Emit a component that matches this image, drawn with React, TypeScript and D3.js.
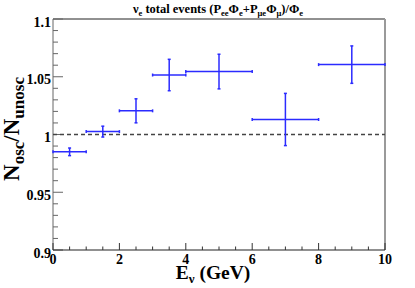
import { useEffect, useRef } from "react";
import * as d3 from "d3";

// bins (GeV) and ratio values
const binLow = [0, 1, 2, 3, 4, 6, 8];
const binHigh = [1, 2, 3, 4, 6, 8, 10];
const ratio = [0.985, 1.0025, 1.0205, 1.0515, 1.0545, 1.013, 1.0605];
const ratioErr = [0.0033, 0.0047, 0.0104, 0.0136, 0.015, 0.0226, 0.0162];

const xTicks = [0, 2, 4, 6, 8, 10];
const yTicks = [0.9, 0.95, 1, 1.05, 1.1];
const yTickLabels = ["0.9", "0.95", "1", "1.05", "1.1"];

// title pieces: [text, subscript?]
const titleParts: [string, boolean][] = [
  ["ν", false],
  ["e", true],
  [" total events (P", false],
  ["ee", true],
  ["Φ", false],
  ["e", true],
  ["+P", false],
  ["μe", true],
  ["Φ", false],
  ["μ", true],
  [")/Φ", false],
  ["e", true],
];

function App() {
  const svgRef = useRef<SVGSVGElement>(null);

  useEffect(() => {
    const width = 415;
    const height = 288;
    const margin = { top: 19, right: 30, bottom: 38, left: 53 };
    const font = "'Liberation Serif', 'Times New Roman', serif";
    const blue = "#2b2bff";

    const svg = d3.select(svgRef.current).attr("width", width).attr("height", height);
    svg.selectAll("*").remove();

    const x = d3
      .scaleLinear()
      .domain([0, 10])
      .range([margin.left, width - margin.right]);
    const y = d3
      .scaleLinear()
      .domain([0.9, 1.1])
      .range([height - margin.bottom, margin.top]);

    const [x0, x1] = x.range();
    const [yb, yt] = y.range();

    // frame: top black, right grey
    svg
      .append("line")
      .attr("x1", x0)
      .attr("x2", x1)
      .attr("y1", yt)
      .attr("y2", yt)
      .attr("stroke", "#222")
      .attr("stroke-width", 1);
    svg
      .append("line")
      .attr("x1", x1)
      .attr("x2", x1)
      .attr("y1", yt)
      .attr("y2", yb)
      .attr("stroke", "#9a9a9a")
      .attr("stroke-width", 2);

    // y axis (ticks inside)
    svg
      .append("line")
      .attr("x1", x0)
      .attr("x2", x0)
      .attr("y1", yt)
      .attr("y2", yb)
      .attr("stroke", "#666")
      .attr("stroke-width", 1);
    d3.range(0, 21).forEach((i) => {
      const v = 0.9 + i * 0.01;
      const major = i % 5 === 0;
      svg
        .append("line")
        .attr("x1", x0)
        .attr("x2", x0 + (major ? 10 : 5))
        .attr("y1", y(v))
        .attr("y2", y(v))
        .attr("stroke", "#666")
        .attr("stroke-width", 1);
    });
    yTicks.forEach((v, i) => {
      svg
        .append("text")
        .attr("x", x0 - 2)
        .attr("y", y(v) + 7.5)
        .attr("text-anchor", "end")
        .style("font-family", font)
        .style("font-weight", "bold")
        .style("font-size", "14px")
        .text(yTickLabels[i]);
    });

    // x axis (ticks inside)
    svg
      .append("line")
      .attr("x1", x0)
      .attr("x2", x1)
      .attr("y1", yb)
      .attr("y2", yb)
      .attr("stroke", "#222")
      .attr("stroke-width", 1.2);
    d3.range(0, 21).forEach((i) => {
      const v = i * 0.5;
      const major = i % 4 === 0;
      svg
        .append("line")
        .attr("x1", x(v))
        .attr("x2", x(v))
        .attr("y1", yb)
        .attr("y2", yb - (major ? 7 : 3.5))
        .attr("stroke", "#333")
        .attr("stroke-width", 1);
    });
    xTicks.forEach((v) => {
      svg
        .append("text")
        .attr("x", x(v))
        .attr("y", yb + 14)
        .attr("text-anchor", "middle")
        .style("font-family", font)
        .style("font-weight", "bold")
        .style("font-size", "14px")
        .text(d3.format("d")(v));
    });

    // dashed reference at 1
    svg
      .append("line")
      .attr("x1", x0)
      .attr("x2", x1)
      .attr("y1", y(1))
      .attr("y2", y(1))
      .attr("stroke", "#444")
      .attr("stroke-width", 1.4)
      .attr("stroke-dasharray", "4,3");

    // error crosses
    const cap = 1.5;
    binLow.forEach((lo, i) => {
      const hi = binHigh[i];
      const cx = x((lo + hi) / 2);
      const cy = y(ratio[i]);
      const g = svg.append("g").attr("stroke", blue).attr("stroke-width", 1.5);
      g.append("line").attr("x1", x(lo)).attr("x2", x(hi)).attr("y1", cy).attr("y2", cy);
      g.append("line")
        .attr("x1", cx)
        .attr("x2", cx)
        .attr("y1", y(ratio[i] - ratioErr[i]))
        .attr("y2", y(ratio[i] + ratioErr[i]));
      [lo, hi].forEach((e) =>
        g.append("line").attr("x1", x(e)).attr("x2", x(e)).attr("y1", cy - cap).attr("y2", cy + cap)
      );
      [ratio[i] - ratioErr[i], ratio[i] + ratioErr[i]].forEach((e) =>
        g.append("line").attr("x1", cx - cap).attr("x2", cx + cap).attr("y1", y(e)).attr("y2", y(e))
      );
    });

    // title
    const title = svg
      .append("text")
      .attr("x", 218)
      .attr("y", 13)
      .attr("text-anchor", "middle")
      .style("font-family", font)
      .style("font-weight", "bold")
      .style("font-size", "12.5px");
    let down = false;
    titleParts.forEach(([t, sub]) => {
      const ts = title.append("tspan").text(t);
      if (sub && !down) {
        ts.attr("dy", 3).style("font-size", "8.5px");
        down = true;
      } else if (sub) {
        ts.style("font-size", "8.5px");
      } else if (down) {
        ts.attr("dy", -3);
        down = false;
      }
    });

    // x label
    const xl = svg
      .append("text")
      .attr("x", 213)
      .attr("y", 279)
      .attr("text-anchor", "middle")
      .style("font-family", font)
      .style("font-weight", "bold")
      .style("font-size", "19.5px");
    xl.append("tspan").text("E");
    xl.append("tspan").attr("dy", 4).style("font-size", "13px").text("ν");
    xl.append("tspan").attr("dy", -4).text(" (GeV)");

    // y label
    const yl = svg
      .append("text")
      .attr("transform", "translate(19,129) rotate(-90)")
      .attr("text-anchor", "middle")
      .style("font-family", font)
      .style("font-weight", "bold")
      .style("font-size", "23px");
    yl.append("tspan").text("N");
    yl.append("tspan").attr("dy", 5).style("font-size", "17px").text("osc");
    yl.append("tspan").attr("dy", -5).text("/N");
    yl.append("tspan").attr("dy", 5).style("font-size", "17px").text("unosc");
  }, []);

  return (
    <svg
      ref={svgRef}
      style={{ position: "absolute", left: 0, top: 0, background: "#fff" }}
    ></svg>
  );
}

export default App;
